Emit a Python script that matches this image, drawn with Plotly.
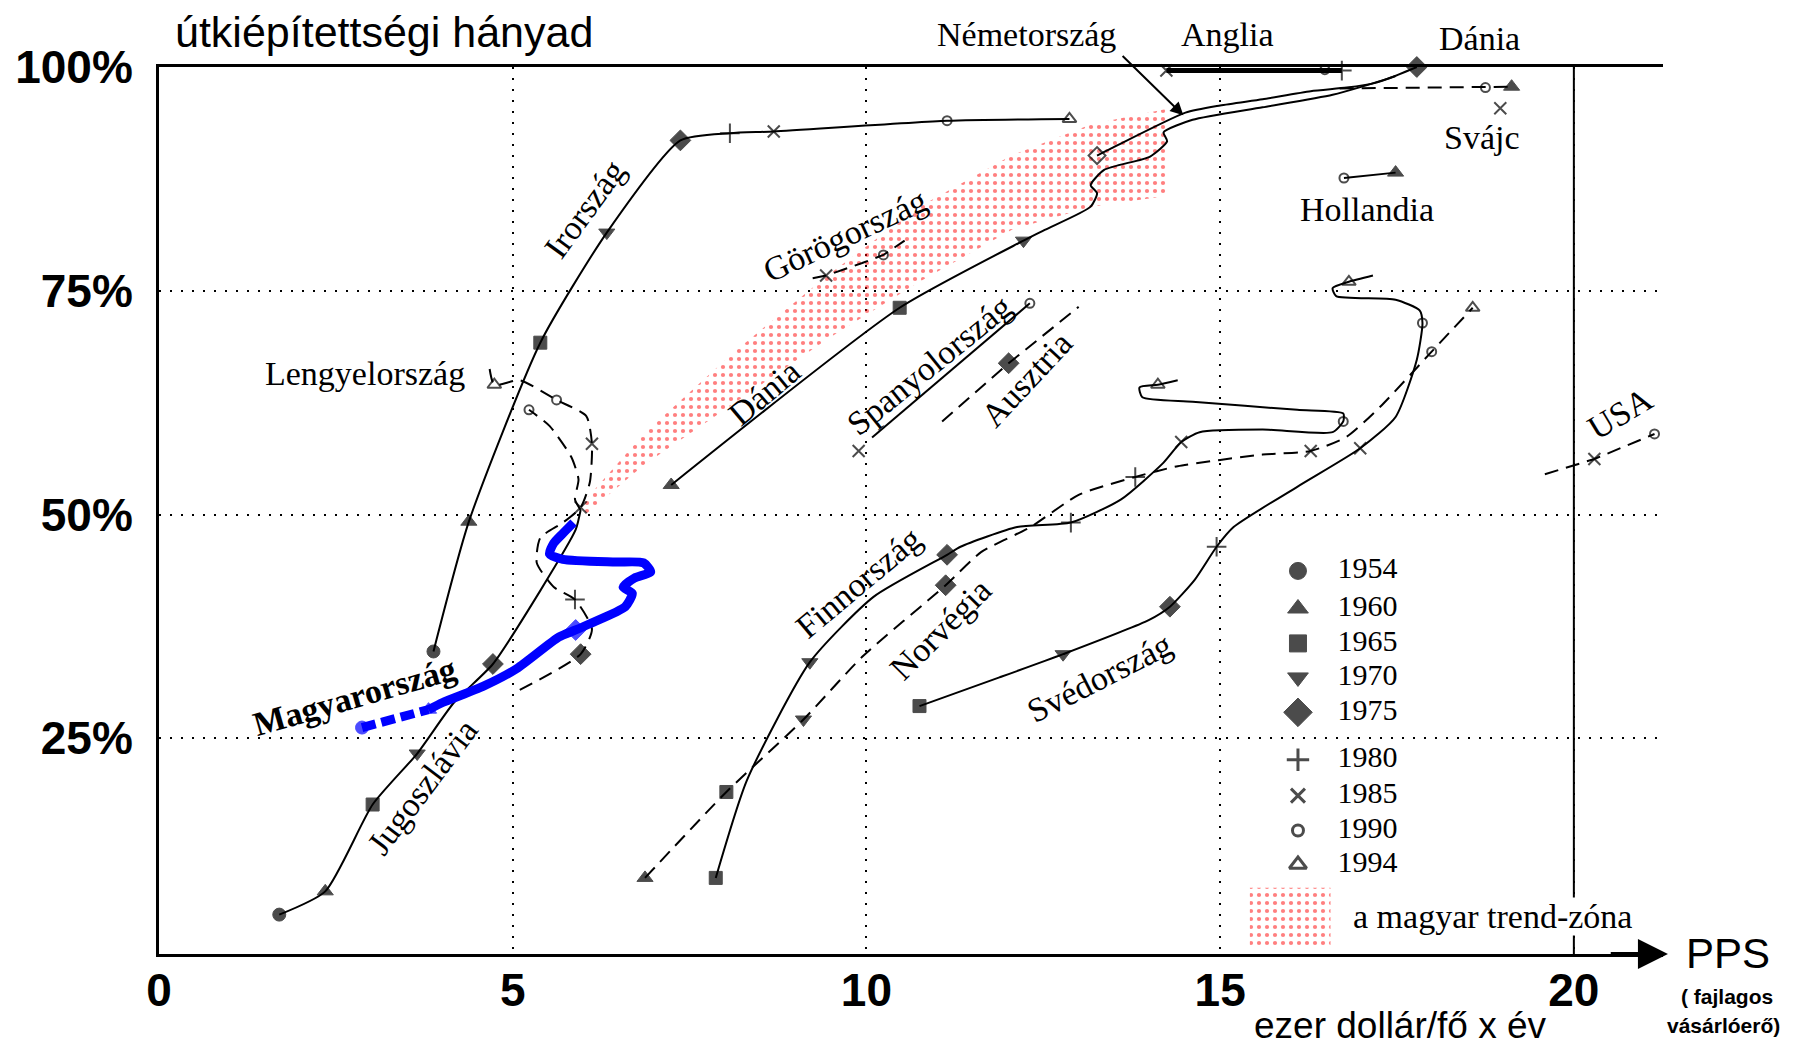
import plotly.graph_objects as go

# marker symbol per survey year (None = plain path point)
SYMBOLS = {1954: "circle", 1960: "triangle-up", 1965: "square", 1970: "triangle-down",
           1975: "diamond", 1980: "cross-thin", 1985: "x-thin", 1990: "circle-open",
           1994: "triangle-up-open", "nyitott": "diamond-open"}
SIZES = {1954: 13, 1960: 14, 1965: 13, 1970: 14, 1975: 16, 1980: 14, 1985: 12,
         1990: 9, 1994: 12, "nyitott": 13}

# --- data: PPS (ezer dollár/fő x év) vs útkiépítettség (%) ---
irorszag_x = [3.88, 4.38, 5.39, 6.33, 7.37, 8.07, 8.69, 11.14, 12.87]
irorszag_y = [34.7, 49.2, 69.2, 81.5, 91.8, 92.6, 92.8, 94.0, 94.2]
irorszag_m = [1954, 1960, 1965, 1970, 1975, 1980, 1985, 1990, 1994]

jugo_x = [1.70, 2.35, 3.02, 3.65, 4.17, 4.72, 5.39, 5.89, 5.96]
jugo_y = [5.3, 7.9, 17.6, 23.3, 29.0, 33.3, 41.5, 48.3, 50.5]
jugo_m = [1954, 1960, 1965, 1970, None, 1975, None, None, None]
jugo_veg_x = [5.96, 5.88, 5.93, 5.83, 5.52, 5.23]
jugo_veg_y = [50.5, 51.7, 53.9, 56.4, 59.9, 61.7]
jugo_veg_m = [None, None, None, None, None, 1990]

lengyel_x = [5.10, 5.96, 6.12, 5.88, 5.58, 5.34, 5.39, 5.71, 5.96, 6.09, 6.12, 6.04, 5.62, 5.10, 4.74, 4.66]
lengyel_y = [30.4, 34.4, 37.2, 40.5, 41.9, 44.6, 47.4, 49.1, 50.8, 53.6, 57.9, 61.0, 62.8, 65.0, 64.5, 67.0]
lengyel_m = [None, 1975, None, 1980, None, None, None, None, 1985, None, 1985, None, 1990, None, 1994, None]

magyar_x = [2.87, 3.81, 4.01, 4.58, 5.06, 5.65, 5.89, 6.09, 6.59, 6.69, 6.56, 6.72, 6.95, 6.85,
            6.46, 5.71, 5.52, 5.58, 5.71, 5.86]
magyar_y = [26.2, 28.2, 29.0, 30.8, 32.8, 36.3, 37.1, 37.8, 39.7, 41.2, 41.9, 42.9, 43.6, 44.6,
            44.7, 45.0, 45.6, 46.8, 47.9, 49.1]
magyar_m = [1954, 1960, None, None, None, None, 1975, None, None, None, None, None, None, None,
            None, None, None, None, None, None]

dania_x = [7.24, 10.47, 12.22, 12.52, 13.17, 13.26, 13.17, 13.36, 14.01, 14.25, 14.20, 14.61,
           15.60, 16.59, 17.37, 17.78]
dania_y = [53.3, 73.1, 80.6, 81.8, 84.4, 85.9, 86.8, 88.5, 90.0, 91.7, 92.7, 94.1,
           95.5, 96.9, 98.7, 100.0]
dania_m = [1960, 1965, 1970, None, None, None, None, None, None, None, None, None,
           None, None, None, 1975]

nemet_x = [13.26, 13.46, 14.51, 15.00, 15.60, 16.28, 16.79, 17.18, 17.48]
nemet_y = [90.1, 90.9, 94.9, 95.7, 96.4, 97.3, 97.7, 98.2, 99.0]
nemet_m = ["nyitott", None, None, None, None, None, None, None, None]

anglia_x = [14.24, 16.48, 16.72]
anglia_y = [99.6, 99.7, 99.6]
anglia_m = [1985, 1990, 1980]

svajc_x = [16.69, 18.75, 19.12, None, 18.96]
svajc_y = [97.6, 97.7, 97.8, None, 95.4]
svajc_m = [None, 1990, 1960, None, 1985]

holland_x = [16.75, 17.48]
holland_y = [87.6, 88.2]
holland_m = [1990, 1960]

gorog_x = [9.24, 9.43, 9.94, 10.24, 10.54]
gorog_y = [76.4, 76.7, 78.1, 79.0, 80.6]
gorog_m = [None, 1985, None, 1990, None]

spanyol_x = [9.89, None, 10.08, 12.31]
spanyol_y = [57.1, None, 58.6, 73.6]
spanyol_m = [1985, None, None, 1990]

osztrak_x = [11.07, 12.01, 13.00]
osztrak_y = [60.4, 66.9, 73.2]
osztrak_m = [None, 1975, None]

finn_x = [7.87, 8.31, 9.20, 10.10, 11.14, 11.33, 12.13, 12.89, 13.60, 14.20, 14.45, 14.71, 15.60,
          16.59, 16.74, 16.74, 16.09, 14.61, 13.90, 13.86, 14.12, 14.40]
finn_y = [9.4, 20.3, 33.5, 40.8, 45.5, 46.4, 48.6, 49.1, 51.7, 55.8, 58.1, 59.2, 59.5,
          59.2, 60.4, 61.3, 61.7, 62.6, 63.1, 64.2, 64.5, 65.0]
finn_m = [1965, None, 1970, None, 1975, None, None, 1980, None, None, 1985, None, None,
          None, 1990, None, None, None, None, None, 1994, None]

norveg_x = [6.87, 8.02, 9.11, 9.94, 11.12, 11.62, 12.32, 13.00, 13.80, 14.40, 15.60, 16.28,
            16.79, 17.27, 17.99, 18.57]
norveg_y = [9.4, 19.0, 27.1, 34.1, 42.1, 45.8, 48.6, 52.2, 54.2, 55.4, 56.7, 57.1,
            58.7, 62.1, 68.2, 73.1]
norveg_m = [1960, 1965, 1970, None, 1975, None, None, None, 1980, None, None, 1985,
            None, None, 1990, 1994]

sved_x = [10.75, 11.88, 12.78, 13.99, 14.29, 14.64, 14.95, 15.19, 16.09, 16.98, 17.48, 17.78,
          17.86, 17.82, 17.48, 16.64, 16.59, 16.82, 17.16]
sved_y = [28.6, 31.8, 34.4, 38.2, 39.7, 42.7, 46.4, 48.6, 53.1, 57.4, 60.9, 67.3,
          71.4, 72.8, 74.0, 74.4, 75.3, 76.0, 76.7]
sved_m = [1965, None, 1970, None, 1975, None, 1980, None, None, 1985, None, None,
          1990, None, None, None, None, 1994, None]

usa_x = [19.59, 20.29, 21.14]
usa_y = [54.5, 56.2, 59.0]
usa_m = [None, 1985, 1990]

# magyar trend-zóna (upper edge then lower edge)
zona_x = [5.96, 6.85, 8.15, 9.45, 10.75, 12.05, 13.18, 14.24, 14.24, 13.18, 12.05, 10.75, 9.45, 8.15, 6.85, 6.04]
zona_y = [51.0, 59.0, 68.3, 76.7, 84.4, 90.1, 93.6, 95.3, 85.6, 84.4, 81.8, 76.0, 69.6, 62.6, 55.5, 50.1]

legend_years = [1954, 1960, 1965, 1970, 1975, 1980, 1985, 1990, 1994]

SERIF = "Liberation Serif, Times New Roman, serif"
SANS = "Liberation Sans, Arial, sans-serif"
X_RANGE = [0, 21.26]
Y_RANGE = [0.9, 100]


def to_px(x):
    return (x - X_RANGE[0]) / (X_RANGE[1] - X_RANGE[0])


def to_py(y):
    return (y - Y_RANGE[0]) / (Y_RANGE[1] - Y_RANGE[0])


fig = go.Figure()

#trend zone first so the lines sit on top
pattern = dict(shape=".", fgcolor="#ff0000", bgcolor="rgba(0,0,0,0)", size=8, solidity=0.22)
fig.add_trace(go.Scatter(x=zona_x, y=zona_y, fill="toself", mode="lines", line=dict(width=0),
                         fillcolor="rgba(0,0,0,0)", fillpattern=pattern, hoverinfo="skip", showlegend=False))


def add_path(xs, ys, marks, dash="solid", width=2, color="black", shape="spline"):
    symbols = [SYMBOLS.get(m, "circle") for m in marks]
    sizes = [SIZES.get(m, 0) for m in marks]
    lws = [0 if m is None else (1 if SYMBOLS[m] in ("circle", "triangle-up", "square", "triangle-down", "diamond") else 2)
           for m in marks]
    fig.add_trace(go.Scatter(
        x=xs, y=ys, mode="lines+markers", cliponaxis=False, hoverinfo="skip", showlegend=False,
        line=dict(color=color, width=width, dash=dash, shape=shape, smoothing=0.6),
        marker=dict(symbol=symbols, size=sizes, color=color, line=dict(color=color, width=lws)),
    ))


DASH = "14px,8px"
add_path(irorszag_x, irorszag_y, irorszag_m)
add_path(jugo_x, jugo_y, jugo_m)
add_path(jugo_veg_x, jugo_veg_y, jugo_veg_m, dash=DASH)
add_path(lengyel_x, lengyel_y, lengyel_m, dash=DASH)
add_path(dania_x, dania_y, dania_m)
add_path(nemet_x, nemet_y, nemet_m)
add_path(anglia_x, anglia_y, anglia_m, width=5, shape="linear")
add_path(svajc_x, svajc_y, svajc_m, dash=DASH, shape="linear")
add_path(holland_x, holland_y, holland_m, shape="linear")
add_path(gorog_x, gorog_y, gorog_m, dash=DASH, shape="linear")
add_path(spanyol_x, spanyol_y, spanyol_m, shape="linear")
add_path(osztrak_x, osztrak_y, osztrak_m, dash=DASH, shape="linear")
add_path(finn_x, finn_y, finn_m)
add_path(norveg_x, norveg_y, norveg_m, dash=DASH)
add_path(sved_x, sved_y, sved_m)
add_path(usa_x, usa_y, usa_m, dash=DASH, shape="linear")

#hungary in thick blue: dashed start, solid afterwards
add_path(magyar_x[:2], magyar_y[:2], magyar_m[:2], dash="14px,6px", width=9, color="#0000ff", shape="linear")
add_path(magyar_x[1:], magyar_y[1:], [None] + magyar_m[2:], width=9, color="#0000ff")

#hand-made legend of the year symbols
leg_y = [43.7, 39.5, 35.6, 31.8, 27.9, 22.6, 18.6, 14.7, 10.9]
fig.add_trace(go.Scatter(
    x=[16.1] * len(legend_years), y=leg_y, mode="markers", cliponaxis=False, hoverinfo="skip", showlegend=False,
    marker=dict(symbol=[SYMBOLS[y] for y in legend_years], size=[17, 18, 17, 18, 22, 16, 14, 11, 15],
                color="black", line=dict(color="black", width=[1, 1, 1, 1, 1, 3, 3, 3, 3])),
))
fig.add_trace(go.Scatter(
    x=[16.66] * len(legend_years), y=leg_y, mode="text", text=[str(y) for y in legend_years],
    textposition="middle right", textfont=dict(family=SERIF, size=30, color="black"),
    cliponaxis=False, hoverinfo="skip", showlegend=False,
))
fig.add_trace(go.Scatter(x=[15.42, 16.56, 16.56, 15.42], y=[8.3, 8.3, 1.9, 1.9], fill="toself", mode="lines",
                         line=dict(width=0), fillcolor="rgba(0,0,0,0)", fillpattern=pattern,
                         hoverinfo="skip", showlegend=False))

# country labels: text, x, y, angle
labels = [
    ("Irország", 6.01, 84.1, -54), ("Lengyelország", 2.91, 65.8, 0),
    ("<b>Magyarország</b>", 2.76, 29.7, -16), ("Jugoszlávia", 3.73, 19.6, -53),
    ("Görögország", 9.69, 81.2, -25), ("Dánia", 8.56, 63.6, -40),
    ("Spanyolország", 10.88, 66.7, -39), ("Ausztria", 12.26, 65.1, -47),
    ("Finnország", 9.89, 42.4, -40), ("Norvégia", 11.04, 37.2, -45),
    ("Svédország", 13.30, 31.8, -27), ("USA", 20.65, 61.3, -31),
    ("Hollandia", 17.08, 84.1, 0), ("Svájc", 18.70, 92.1, 0),
]
top_labels = [("Németország", 12.26, 103.6), ("Anglia", 15.10, 103.6), ("Dánia", 18.67, 103.2)]

annotations = []
for txt, lx, ly, ang in labels:
    annotations.append(dict(x=lx, y=ly, text=txt, showarrow=False, textangle=ang,
                            xanchor="center", yanchor="middle",
                            font=dict(family=SERIF, size=34, color="black")))
for txt, lx, ly in top_labels:
    annotations.append(dict(x=lx, xref="x", y=to_py(ly), yref="paper", text=txt, showarrow=False,
                            xanchor="center", yanchor="middle",
                            font=dict(family=SERIF, size=34, color="black")))
annotations.append(dict(x=16.87, y=5.1, text="a magyar trend-zóna", showarrow=False,
                        xanchor="left", yanchor="middle", bgcolor="white", borderpad=0,
                        font=dict(family=SERIF, size=34, color="black")))

#arrow from the Németország label
annotations.append(dict(x=14.48, y=94.6, ax=13.6, ay=101.4, axref="x", ayref="y", text="",
                        showarrow=True, arrowhead=2, arrowsize=1.3, arrowwidth=2, arrowcolor="black"))
#x axis arrow
annotations.append(dict(x=21.33, y=Y_RANGE[0], ax=20.5, ay=Y_RANGE[0], axref="x", ayref="y", text="",
                        showarrow=True, arrowhead=2, arrowsize=1.5, arrowwidth=4, arrowcolor="black"))

annotations += [
    dict(x=0.2, xref="x", y=to_py(103.9), yref="paper", text="útkiépítettségi hányad", showarrow=False,
         xanchor="left", yanchor="middle", font=dict(family=SANS, size=43, color="black")),
    dict(x=to_px(17.55), xref="paper", y=to_py(-7.1), yref="paper", text="ezer dollár/fő x év",
         showarrow=False, xanchor="center", yanchor="middle", font=dict(family=SANS, size=37, color="black")),
    dict(x=to_px(21.55), xref="paper", y=to_py(1.0), yref="paper", text="PPS", showarrow=False,
         xanchor="left", yanchor="middle", font=dict(family=SANS, size=42, color="black")),
    dict(x=to_px(22.16), xref="paper", y=to_py(-3.9), yref="paper", text="<b>( fajlagos</b>",
         showarrow=False, xanchor="center", yanchor="middle", font=dict(family=SANS, size=21, color="black")),
    dict(x=to_px(22.11), xref="paper", y=to_py(-7.1), yref="paper", text="<b>vásárlóerő)</b>",
         showarrow=False, xanchor="center", yanchor="middle", font=dict(family=SANS, size=21, color="black")),
]

# page body keeps an 8px margin, so the figure is 16px smaller than the window
fig.update_layout(
    width=1785, height=1042,
    margin=dict(l=151, r=130, t=59, b=96),
    plot_bgcolor="white", paper_bgcolor="white",
    showlegend=False,
    annotations=annotations,
    shapes=[dict(type="line", xref="x", yref="y", x0=20, x1=20, y0=Y_RANGE[0], y1=100,
                 line=dict(color="black", width=2))],
    xaxis=dict(range=X_RANGE, tickvals=[0, 5, 10, 15, 20], ticktext=["0", "5", "10", "15", "20"],
               showgrid=True, gridcolor="black", gridwidth=2, griddash="2px,9px",
               showline=True, linecolor="black", linewidth=3, mirror=True, zeroline=False,
               ticks="", ticklabelstandoff=-6, automargin=False,
               tickfont=dict(family=SANS, size=46, color="black", weight="bold")),
    yaxis=dict(range=Y_RANGE, tickvals=[25, 50, 75, 100], ticktext=["25%", "50%", "75%", "100%"],
               showgrid=True, gridcolor="black", gridwidth=2, griddash="2px,9px",
               showline=True, linecolor="black", linewidth=3, mirror=False, zeroline=False,
               ticks="", ticklabelstandoff=14, automargin=False,
               tickfont=dict(family=SANS, size=46, color="black", weight="bold")),
)

fig.write_html("out.html")
